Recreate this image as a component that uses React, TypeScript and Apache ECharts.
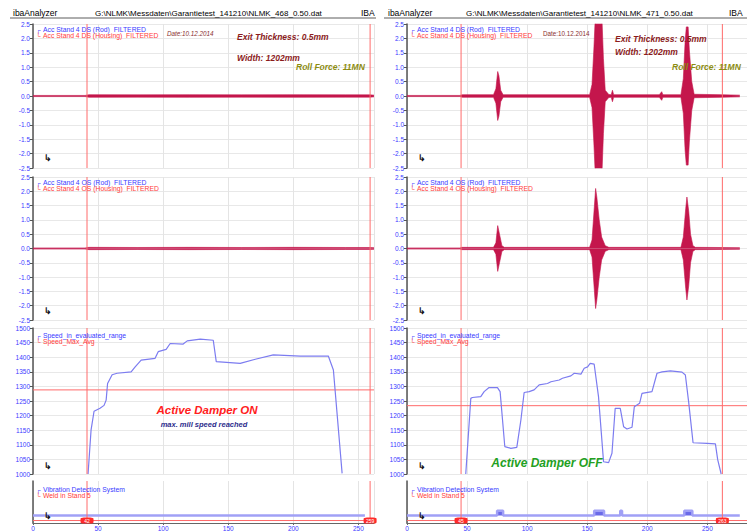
import React, { useEffect, useRef } from "react";
import * as echarts from "echarts";

const FONT = "'Liberation Sans', Arial, sans-serif";

// ---------- data ----------
const leftXMax = 262;
const rightXMax = 283;
const cursorsLeft = [41.5, 259];
const cursorsRight = [45, 262.5];

// Acc envelopes [time s, amplitude]
const accDsLeft: [number, number][] = [
  [0, 0.02], [40, 0.02], [43, 0.045], [80, 0.04], [120, 0.045], [160, 0.04], [200, 0.045], [240, 0.04], [259, 0.04], [262, 0.03],
];
const accOsLeft: [number, number][] = [
  [0, 0.02], [40, 0.02], [43, 0.04], [80, 0.035], [120, 0.04], [160, 0.035], [200, 0.04], [240, 0.035], [259, 0.035], [262, 0.03],
];
const accDsRight: [number, number][] = [
  [0, 0.02], [44, 0.02], [46, 0.045], [72, 0.045], [74, 0.25], [75.5, 0.85], [76.5, 0.7], [78, 0.2], [80, 0.045],
  [152, 0.045], [154, 0.4], [155.5, 1.6], [157, 3], [162, 3], [163.5, 1.3], [165, 0.2], [168, 0.05],
  [170, 0.045], [171, 0.2], [172, 0.045], [210, 0.045], [212, 0.15], [213, 0.045],
  [228, 0.045], [230, 0.6], [231.5, 1.9], [232.5, 2.4], [234, 2.4], [235, 1.6], [237, 0.5], [239, 0.06], [262, 0.045], [277, 0.03],
];
const accOsRight: [number, number][] = [
  [0, 0.02], [44, 0.02], [46, 0.04], [72, 0.04], [74, 0.2], [75.5, 0.8], [77, 0.5], [79, 0.1], [81, 0.04],
  [152, 0.04], [154, 0.3], [155.5, 1.2], [157, 2.1], [158, 1.8], [160, 1.0], [162, 0.4], [165, 0.1], [168, 0.04],
  [228, 0.04], [230, 0.4], [232, 1.4], [233, 1.8], [234.5, 1.3], [236, 0.5], [238, 0.1], [240, 0.04], [277, 0.03],
];

// Speed [time s, m/min]
const speedLeft: [number, number][] = [
  [42.3, 1000], [44.6, 1150], [46.9, 1215], [51.5, 1225], [54.6, 1235], [56.2, 1253], [57.3, 1310], [60.8, 1340],
  [64.6, 1345], [75.4, 1350], [78.5, 1367], [83.1, 1390], [93.8, 1396], [96.2, 1419], [102.3, 1427], [105.4, 1447],
  [115.4, 1445], [118.5, 1456], [128.5, 1462], [138.5, 1458], [140.8, 1385], [159.2, 1379], [170.8, 1393],
  [184.6, 1408], [205.4, 1404], [226.9, 1404], [230.8, 1356], [237.5, 1002],
];
const speedRight: [number, number][] = [
  [48.9, 1000], [53.1, 1259], [54.4, 1262], [61.4, 1265], [64.2, 1282], [68.3, 1296], [75.3, 1296], [77.5, 1282],
  [81.4, 1094], [86.4, 1088], [91.4, 1091], [94.8, 1185], [97.5, 1279], [101.7, 1282], [105.8, 1288], [110, 1305],
  [116.9, 1310], [119.8, 1316], [126.7, 1322], [129.4, 1328], [136.4, 1336], [139.2, 1345], [144.8, 1342],
  [147.5, 1362], [150.3, 1367], [152.5, 1379], [155.8, 1376], [159.4, 1265], [163.6, 1042], [167.8, 1039],
  [170.6, 1071], [173.3, 1225], [177.5, 1225], [180.3, 1162], [183.1, 1154], [187.3, 1160], [189.2, 1230],
  [193.6, 1242], [195.6, 1276], [203.9, 1282], [208.1, 1345], [212.3, 1350], [219.2, 1353], [228.9, 1349],
  [231.7, 1339], [234.4, 1248], [238.1, 1107], [249.8, 1105], [256.7, 1103], [258.6, 1049], [261.5, 1000],
];
const speedMaxAvgLeft = 1288;
const speedMaxAvgRight = 1234;

// Vibration detection active intervals [start, end] s
const vibIntervalsLeft: [number, number][] = [];
const vibIntervalsRight: [number, number][] = [[75, 80], [155.8, 164], [177.5, 179], [230.8, 237.5]];
const vibEndLeft = 255;
const vibEndRight = 277;

// ---------- layout ----------
const panelTops = [24, 177, 328, 481];
const panelHeights = [144, 143, 146, 44];
const panelRanges: [number, number][] = [[-2.5, 2.5], [-2.5, 2.5], [1000, 1500], [-0.5, 8]];
const halves = [
  { left: 33, width: 341, xmax: leftXMax },
  { left: 407, width: 340, xmax: rightXMax },
];

const BAND = "#c4164c";
const SPEED = "#7c7cf0";
const RED = "#ff6a6a";
const BLUE_LBL = "#3c3cff";
const VIB = "#a0a0f6";

function txt(text: string, x: number, y: number, size: number, color: string, o: any = {}) {
  return {
    type: "text", x, y, silent: true, z: 100,
    style: {
      text, fill: color, fontSize: size, fontFamily: FONT,
      fontWeight: o.bold ? "bold" : "normal", fontStyle: o.italic ? "italic" : "normal",
      verticalAlign: "middle", align: o.align || "left",
    },
  };
}
function hline(x1: number, x2: number, y: number, color: string, w = 1) {
  return { type: "line", silent: true, shape: { x1, y1: y, x2, y2: y }, style: { stroke: color, lineWidth: w } };
}

function buildVib(intervals: [number, number][], end: number) {
  const d: [number, number][] = [[0, 1]];
  intervals.forEach(([s, e]) => { d.push([s, 1], [s, 2], [e, 2], [e, 1]); });
  d.push([end, 1]);
  return d;
}

function envSeries(env: [number, number][], gi: number) {
  const common = {
    type: "line", xAxisIndex: gi, yAxisIndex: gi, symbol: "none", silent: true,
    lineStyle: { color: BAND, width: 0.6 }, areaStyle: { color: BAND, opacity: 1 },
  };
  return [
    { ...common, data: env.map(([t, a]) => [t, a]) },
    { ...common, data: env.map(([t, a]) => [t, -a]) },
  ];
}

export default function App() {
  const ref = useRef<HTMLDivElement>(null);
  useEffect(() => {
    if (!ref.current) return;
    const chart = echarts.init(ref.current, undefined, { renderer: "svg" });
    const grid: any[] = [], xAxis: any[] = [], yAxis: any[] = [], series: any[] = [];

    halves.forEach((h, hi) => {
      const cursors = hi === 0 ? cursorsLeft : cursorsRight;
      panelTops.forEach((top, p) => {
        const gi = hi * 4 + p;
        const [ymin, ymax] = panelRanges[p];
        grid.push({ left: h.left, top, width: h.width, height: panelHeights[p] });
        xAxis.push({
          gridIndex: gi, type: "value", min: 0, max: h.xmax, interval: 50,
          axisLabel: { show: p === 3, fontSize: 6.5, color: BLUE_LBL, margin: 2, fontFamily: FONT, showMaxLabel: false },
          axisLine: { show: p === 3, onZero: false, lineStyle: { color: "#666", width: 1.2 } },
          axisTick: { show: p === 3, length: 2, lineStyle: { color: "#666" } },
          splitLine: { show: true, lineStyle: { color: "#e4e4e4", width: 1 } },
        });
        const ycommon = {
          gridIndex: gi, type: "value", min: ymin, max: ymax,
          axisLine: { show: true, onZero: false, lineStyle: { color: "#555", width: 1.5 } },
          axisTick: { show: p !== 3, length: 3, lineStyle: { color: "#555" } },
          splitLine: { show: p !== 3, lineStyle: { color: "#e8e8e8", width: 1 } },
        };
        if (p < 2) {
          yAxis.push({
            ...ycommon, interval: 0.5,
            axisLabel: { fontSize: 6.5, color: BLUE_LBL, margin: 3, fontFamily: FONT, formatter: (v: number) => v.toFixed(1) },
          });
        } else if (p === 2) {
          yAxis.push({
            ...ycommon, interval: 50,
            axisLabel: { fontSize: 6.5, color: BLUE_LBL, margin: 3, fontFamily: FONT, formatter: (v: number) => String(v) },
          });
        } else {
          yAxis.push({ ...ycommon, axisLabel: { show: false } });
        }

        // cursor lines
        cursors.forEach((c) => {
          series.push({
            type: "line", xAxisIndex: gi, yAxisIndex: gi, symbol: "none", silent: true, z: 4,
            data: [[c, ymin], [c, ymax]], lineStyle: { color: RED, width: 1 },
          });
        });

        if (p === 0) series.push(...envSeries(hi === 0 ? accDsLeft : accDsRight, gi));
        if (p === 1) series.push(...envSeries(hi === 0 ? accOsLeft : accOsRight, gi));
        if (p === 2) {
          const mx = hi === 0 ? speedMaxAvgLeft : speedMaxAvgRight;
          series.push({
            type: "line", xAxisIndex: gi, yAxisIndex: gi, symbol: "none", silent: true,
            data: [[0, mx], [h.xmax, mx]], lineStyle: { color: RED, width: 1 },
          });
          series.push({
            type: "line", xAxisIndex: gi, yAxisIndex: gi, symbol: "none", silent: true,
            data: hi === 0 ? speedLeft : speedRight, lineStyle: { color: SPEED, width: 1.2 },
          });
        }
        if (p === 3) {
          const vib = hi === 0 ? buildVib(vibIntervalsLeft, vibEndLeft) : buildVib(vibIntervalsRight, vibEndRight);
          series.push({
            type: "line", xAxisIndex: gi, yAxisIndex: gi, symbol: "none", silent: true,
            data: vib, lineStyle: { color: VIB, width: 2.5 },
            areaStyle: { color: "#6a6ae8", opacity: 1, origin: 1 },
          });
          series.push({
            type: "line", xAxisIndex: gi, yAxisIndex: gi, symbol: "none", silent: true,
            data: [[0, 0], [h.xmax, 0]], lineStyle: { color: RED, width: 1 },
            markPoint: {
              silent: true, symbol: "roundRect", symbolSize: [13, 6],
              itemStyle: { color: "#ff2a2a" },
              label: { show: true, color: "#fff", fontSize: 5, fontFamily: FONT, formatter: (pp: any) => String(Math.round(pp.value)) },
              data: cursors.map((c) => ({ coord: [c, 0], value: c })),
            },
          });
        }
      });
    });

    const graphic: any[] = [];
    // headers
    graphic.push(txt("ibaAnalyzer", 13, 13, 8.5, "#000"));
    graphic.push(txt("G:\\NLMK\\Messdaten\\Garantietest_141210\\NLMK_468_0.50.dat", 95, 13, 8, "#000"));
    graphic.push(txt("IBA", 361, 13, 8.5, "#000"));
    graphic.push(hline(10, 376, 18, "#333", 0.8));
    graphic.push(txt("ibaAnalyzer", 388, 13, 8.5, "#000"));
    graphic.push(txt("G:\\NLMK\\Messdaten\\Garantietest_141210\\NLMK_471_0.50.dat", 466, 13, 8, "#000"));
    graphic.push(txt("IBA", 729, 13, 8.5, "#000"));
    graphic.push(hline(384, 747, 18, "#333", 0.8));

    const legends = [
      ["Acc Stand 4 DS (Rod)  FILTERED", "Acc Stand 4 DS (Housing)  FILTERED"],
      ["Acc Stand 4 OS (Rod)  FILTERED", "Acc Stand 4 OS (Housing)  FILTERED"],
      ["Speed_in_evaluated_range", "Speed_Max_Avg"],
      ["Vibration Detection System", "Weld in Stand 5"],
    ];
    const legendY = [29, 182, 335, 489];
    const iconY = [158, 311, 466, 516];
    halves.forEach((h) => {
      legends.forEach((lg, i) => {
        graphic.push(txt("\u250C", h.left + 3, legendY[i], 6.5, "#4a4aff"));
        graphic.push(txt("\u2514", h.left + 3, legendY[i] + 6.5, 6.5, "#ff4040"));
        graphic.push(txt(lg[0], h.left + 10, legendY[i], 6.8, "#3a3aff"));
        graphic.push(txt(lg[1], h.left + 10, legendY[i] + 6.5, 6.8, "#ff3a3a"));
        graphic.push(txt("\u21B3", h.left + 11, iconY[i], 9, "#111", { bold: true }));
      });
    });

    // annotations left
    graphic.push(txt("Date:10.12.2014", 167, 33, 6.3, "#8a3030", { italic: true }));
    graphic.push(txt("Exit Thickness: 0.5mm", 237, 37, 8.5, "#8b1c1c", { bold: true, italic: true }));
    graphic.push(txt("Width: 1202mm", 237, 58, 8.5, "#8b1c1c", { bold: true, italic: true }));
    graphic.push(txt("Roll Force: 11MN", 296, 67, 8.5, "#8c8c10", { bold: true, italic: true }));
    graphic.push(txt("Active Damper ON", 207, 410, 11.5, "#ff2020", { bold: true, italic: true, align: "center" }));
    graphic.push(txt("max. mill speed reached", 204, 424, 7.5, "#2c2c8c", { bold: true, italic: true, align: "center" }));
    // annotations right
    graphic.push(txt("Date:10.12.2014", 543, 33, 6.3, "#8a3030"));
    graphic.push(txt("Exit Thickness: 0.5mm", 615, 39, 8.5, "#8b1c1c", { bold: true, italic: true }));
    graphic.push(txt("Width: 1202mm", 615, 52, 8.5, "#8b1c1c", { bold: true, italic: true }));
    graphic.push(txt("Roll Force: 11MN", 672, 67, 8.5, "#8c8c10", { bold: true, italic: true }));
    graphic.push(txt("Active Damper OFF", 547, 463, 12, "#22a022", { bold: true, italic: true, align: "center" }));

    chart.setOption({
      animation: false,
      backgroundColor: "#fff",
      textStyle: { fontFamily: FONT },
      grid, xAxis, yAxis, series, graphic,
    });
    return () => chart.dispose();
  }, []);
  return <div ref={ref} style={{ position: "absolute", left: 0, top: 0, width: 747, height: 532, background: "#fff" }} />;
}
